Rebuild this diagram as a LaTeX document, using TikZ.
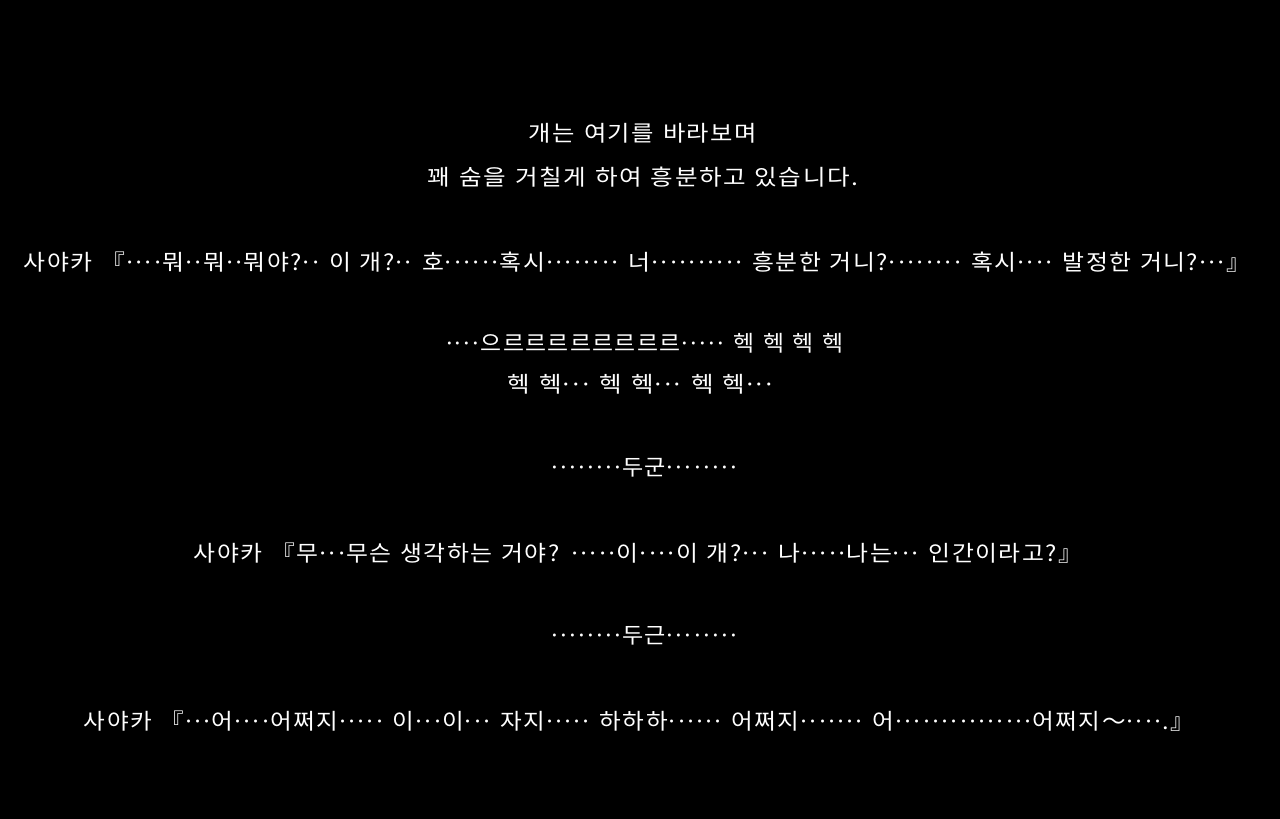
\documentclass[tikz,border=0pt]{standalone}
\usepackage{fontspec}
\usepackage{newunicodechar}
\setmainfont[LetterSpace=6,WordSpace=1.3]{Noto Sans CJK KR}
\newfontfamily\dotfont{Noto Sans CJK KR}
\newunicodechar{·}{\makebox[8.6pt]{\dotfont\char"00B7}}
\newcommand\fitline[2]{\resizebox{#1pt}{\height}{#2}}
\begin{document}
\begin{tikzpicture}[x=1pt,y=1pt]
\tikzset{line/.style={text=white,inner sep=0pt,anchor=center,font=\fontsize{22}{22}\selectfont}}
\fill[black] (0,0) rectangle (1280,819);
\useasboundingbox (0,0) rectangle (1280,819);
\node[line] (l1) at (643,819-133) {\fitline{228}{개는 여기를 바라보며}};
\node[line] (l2) at (643,819-177) {\fitline{430}{꽤 숨을 거칠게 하여 흥분하고 있습니다.}};
\node[line] (l3) at (637,819-262) {\fitline{1226}{사야카 『····뭐··뭐··뭐야?·· 이 개?·· 호······혹시········ 너·········· 흥분한 거니?········ 혹시···· 발정한 거니?···』}};
\node[line] (l4) at (644,819-343) {\fitline{398}{····으르르르르르르르르····· 헥 헥 헥 헥}};
\node[line] (l5) at (641,819-384) {\fitline{266}{헥 헥··· 헥 헥··· 헥 헥···}};
\node[line] (l6) at (644,819-468) {\fitline{188}{········두군········}};
\node[line] (l7) at (638,819-553) {\fitline{888}{사야카 『무···무슨 생각하는 거야? ·····이····이 개?··· 나·····나는··· 인간이라고?』}};
\node[line] (l8) at (644,819-636) {\fitline{188}{········두근········}};
\node[line] (l9) at (639,819-721) {\fitline{1110}{사야카 『···어····어쩌지····· 이···이··· 자지····· 하하하······ 어쩌지······· 어···············어쩌지～····.』}};
\end{tikzpicture}
\end{document}
